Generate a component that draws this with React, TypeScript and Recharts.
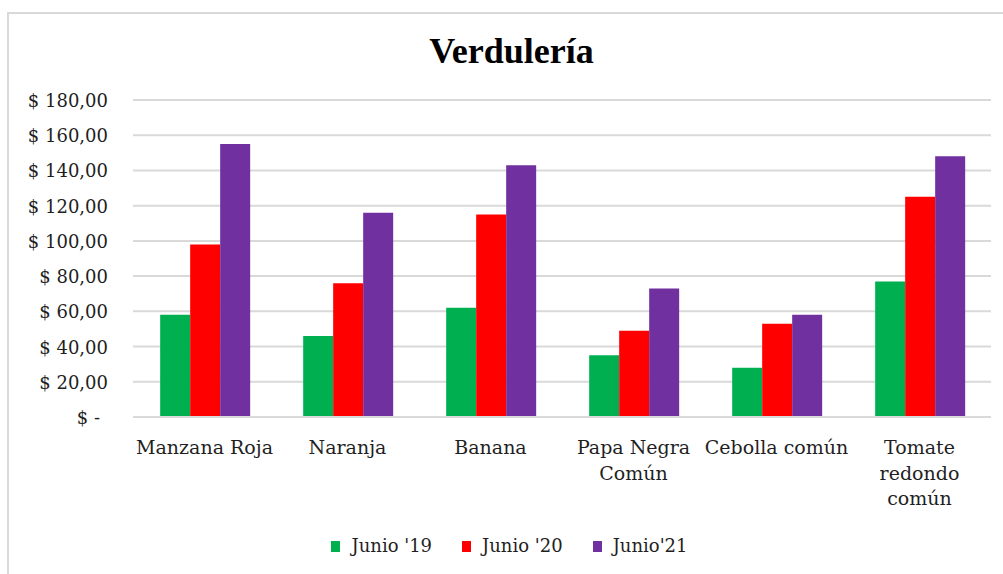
import React from 'react';
import { BarChart, Bar, XAxis, YAxis, CartesianGrid, Legend } from 'recharts';

const categories = ['Manzana Roja', 'Naranja', 'Banana', 'Papa Negra Común', 'Cebolla común', 'Tomate redondo común'];
const categoryLines = [['Manzana Roja'], ['Naranja'], ['Banana'], ['Papa Negra', 'Común'], ['Cebolla común'], ['Tomate', 'redondo', 'común']];
const junio19 = [58, 46, 62, 35, 28, 77];
const junio20 = [98, 76, 115, 49, 53, 125];
const junio21 = [155, 116, 143, 73, 58, 148];
const yTicks = [0, 20, 40, 60, 80, 100, 120, 140, 160, 180];
const seriesKeys = ['j19', 'j20', 'j21'];
const seriesNames = ["Junio '19", "Junio '20", "Junio'21"];
const seriesColors = ['#00B050', '#FF0000', '#7030A0'];

const data = categories.map((name, i) => ({ name, j19: junio19[i], j20: junio20[i], j21: junio21[i] }));

const FONT = '"DejaVu Serif", serif';
const TEXT = '#1f1f1f';

const YTick = (props: any) => {
  const { x, y, payload } = props;
  const v = payload.value as number;
  const label = v === 0 ? '$ -' : `$ ${v},00`;
  return (
    <text x={v === 0 ? x - 8 : x} y={y + 7} textAnchor="end" fontFamily={FONT} fontSize={18} fill={TEXT}>
      {label}
    </text>
  );
};

const XTick = (props: any) => {
  const { x, y, payload } = props;
  const idx = categories.indexOf(payload.value);
  const lines = idx >= 0 ? categoryLines[idx] : [String(payload.value)];
  return (
    <text textAnchor="middle" fontFamily={FONT} fontSize={19} fill={TEXT}>
      {lines.map((l, i) => (
        <tspan key={i} x={x} y={y + 37 + i * 25.5}>
          {l}
        </tspan>
      ))}
    </text>
  );
};

const LegendContent = (props: any) => {
  const { payload } = props;
  return (
    <div style={{ display: 'flex', justifyContent: 'center', gap: 30, paddingLeft: 16 }}>
      {(payload || []).map((p: any, i: number) => (
        <div key={i} style={{ display: 'flex', alignItems: 'center' }}>
          <div style={{ width: 9, height: 11, background: p.color, marginRight: 11 }} />
          <span style={{ fontFamily: FONT, fontSize: 18, color: TEXT, lineHeight: '22px' }}>{p.value}</span>
        </div>
      ))}
    </div>
  );
};

export default function App() {
  return (
    <div style={{ position: 'absolute', left: 0, top: 0, width: 1003, height: 574, overflow: 'hidden', background: '#fff' }}>
      <div
        style={{
          position: 'absolute',
          left: 7,
          top: 12,
          width: 1100,
          height: 700,
          borderLeft: '2px solid #d9d9d9',
          borderTop: '2px solid #d9d9d9',
        }}
      />
      <div
        style={{
          position: 'absolute',
          left: 20,
          width: 983,
          top: 33,
          textAlign: 'center',
          fontFamily: '"Liberation Serif", serif',
          fontWeight: 'bold',
          fontSize: 36,
          lineHeight: '36px',
          color: '#000',
        }}
      >
        Verdulería
      </div>
      <div style={{ position: 'absolute', left: 0, top: 0 }}>
        <BarChart
          width={1003}
          height={574}
          data={data}
          margin={{ top: 100, right: 12, bottom: 0, left: 0 }}
          barCategoryGap="19%"
          barGap={0}
        >
          <CartesianGrid vertical={false} stroke="#d9d9d9" strokeWidth={2} />
          <XAxis
            dataKey="name"
            height={157}
            tickLine={false}
            tickSize={0}
            tickMargin={0}
            axisLine={{ stroke: '#d9d9d9', strokeWidth: 2 }}
            tick={<XTick />}
            interval={0}
          />
          <YAxis
            width={133}
            domain={[0, 180]}
            ticks={yTicks}
            tickLine={false}
            axisLine={false}
            tickSize={0}
            tickMargin={25}
            tick={<YTick />}
            interval={0}
          />
          <Legend
            verticalAlign="middle"
            content={<LegendContent />}
            wrapperStyle={{ top: 535, left: 0, width: 1003 }}
          />
          {seriesKeys.map((k, i) => (
            <Bar key={k} dataKey={k} name={seriesNames[i]} fill={seriesColors[i]} isAnimationActive={false} />
          ))}
        </BarChart>
      </div>
    </div>
  );
}
